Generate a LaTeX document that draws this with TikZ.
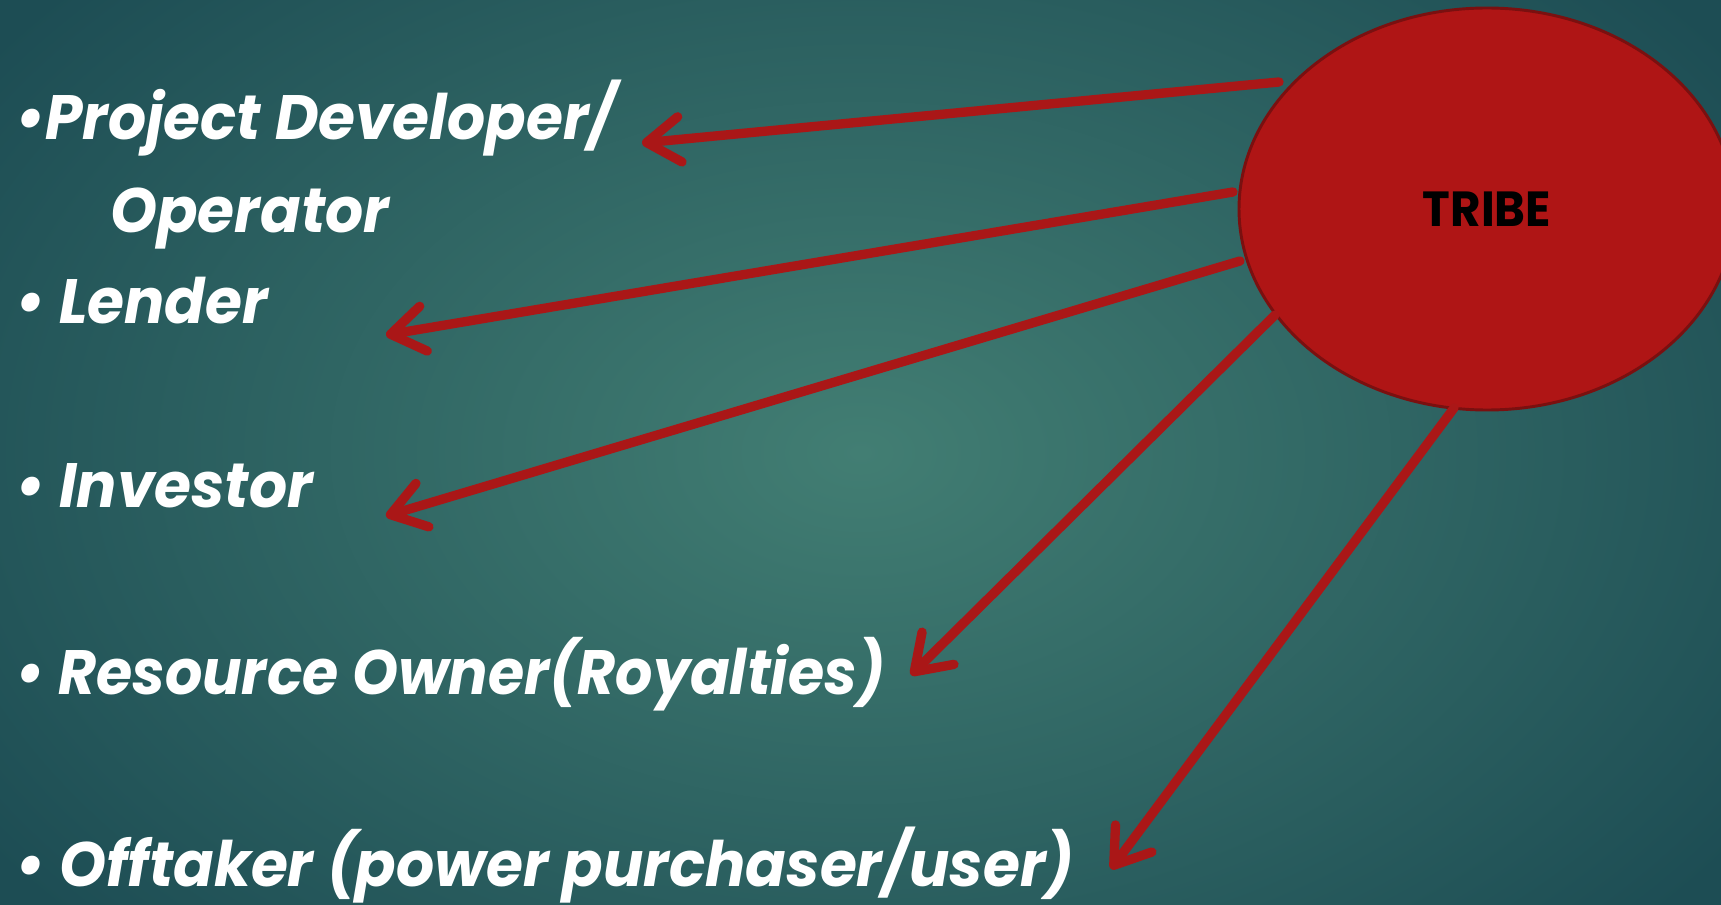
\documentclass[tikz,border=0pt]{standalone}
\usepackage{fontspec}
\setmainfont{Poppins}
\usetikzlibrary{arrows.meta,shapes.geometric}
\definecolor{bgin}{HTML}{427E73}
\definecolor{bgout}{HTML}{1D4D54}
\definecolor{tribered}{HTML}{AF1515}
\definecolor{tribeedge}{HTML}{7A1010}
\definecolor{arrowred}{HTML}{AA1717}
\newcommand{\itemtext}[2][0.955]{\scalebox{#1}[1]{#2}}
\tikzset{
  item/.style={anchor=base west, inner sep=0pt, text=white, font=\fontsize{47}{56}\selectfont\bfseries\itshape},
  link/.style={draw=arrowred, line width=7pt, line cap=round,
    -{Straight Barb[length=25pt,width=34pt,line cap=round,line join=round]}},
}
\begin{document}
\begin{tikzpicture}[x=0.75pt,y=-0.75pt]
\useasboundingbox (0,0) rectangle (1721,905);
\shade[inner color=bgin, outer color=bgout] (-200,-250) rectangle (1921,1155);
% TRIBE ellipse
\node[ellipse, draw=tribeedge, line width=2.2pt, fill=tribered,
      minimum width=496*0.75pt, minimum height=402*0.75pt, inner sep=0pt,
      font=\fontsize{37}{40}\selectfont\bfseries] (tribe) at (1487,209) {\scalebox{0.95}[1]{TRIBE}};
% items
\node[item] (pd) at (15,140) {\itemtext{•Project Developer/}};
\node[item] (op) at (110,233) {\itemtext{Operator}};
\node[item] (le) at (15,324) {\itemtext{• Lender}};
\node[item] (in) at (15,508) {\itemtext{• Investor}};
\node[item] (ro) at (15,694) {\itemtext[0.935]{• Resource Owner(Royalties)}};
\node[item] (ot) at (15,886) {\itemtext{• Offtaker (power purchaser/user)}};
% connector ends
\coordinate (s1) at (1279,82);   \coordinate (e1) at (642,143);
\coordinate (s2) at (1233,192);  \coordinate (e2) at (386,335);
\coordinate (s3) at (1240,261);  \coordinate (e3) at (386,516);
\coordinate (s4) at (1275,315);  \coordinate (e4) at (911,675);
\coordinate (s5) at (1454,408);  \coordinate (e5) at (1111,869);
\draw[link] (s1) -- (e1);
\draw[link] (s2) -- (e2);
\draw[link] (s3) -- (e3);
\draw[link] (s4) -- (e4);
\draw[link] (s5) -- (e5);
\end{tikzpicture}
\end{document}
